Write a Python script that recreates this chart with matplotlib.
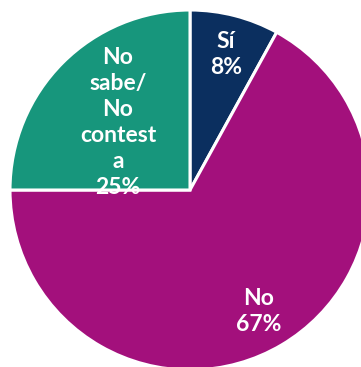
import matplotlib
matplotlib.use("Agg")
import matplotlib.pyplot as plt

# Data
labels = ["Sí", "No", "No\nsabe/\nNo\ncontest\na"]
values = [8, 67, 25]
colors = ["#0b2f5f", "#a3107c", "#17967c"]

# label anchor positions (in pie radius units)
label_pos = [(0.20, 0.755), (0.38, -0.675), (-0.40, 0.375)]

W, H = 361, 367
cx, cy, r = 190, 190, 180  # pie centre / radius in pixels (from top-left)

fig = plt.figure(figsize=(W / 100, H / 100), dpi=100)
ax = fig.add_axes([0, 0, 1, 1])
ax.axis("off")

wedges, _ = ax.pie(values, colors=colors, startangle=90, counterclock=False,
                   radius=1, wedgeprops=dict(edgecolor="white", linewidth=2.2))

ax.set_xlim(-cx / r, (W - cx) / r)
ax.set_ylim(-(H - cy) / r, cy / r)

for w, lab, val, (x, y) in zip(wedges, labels, values, label_pos):
    t = ax.text(x, y, f"{lab}\n{val}%", ha="center", va="center", color="white",
                fontsize=16.5, fontweight="bold", family="Lato", linespacing=1.3)
    t.set_clip_path(w)

fig.savefig("out.png", dpi=100)
